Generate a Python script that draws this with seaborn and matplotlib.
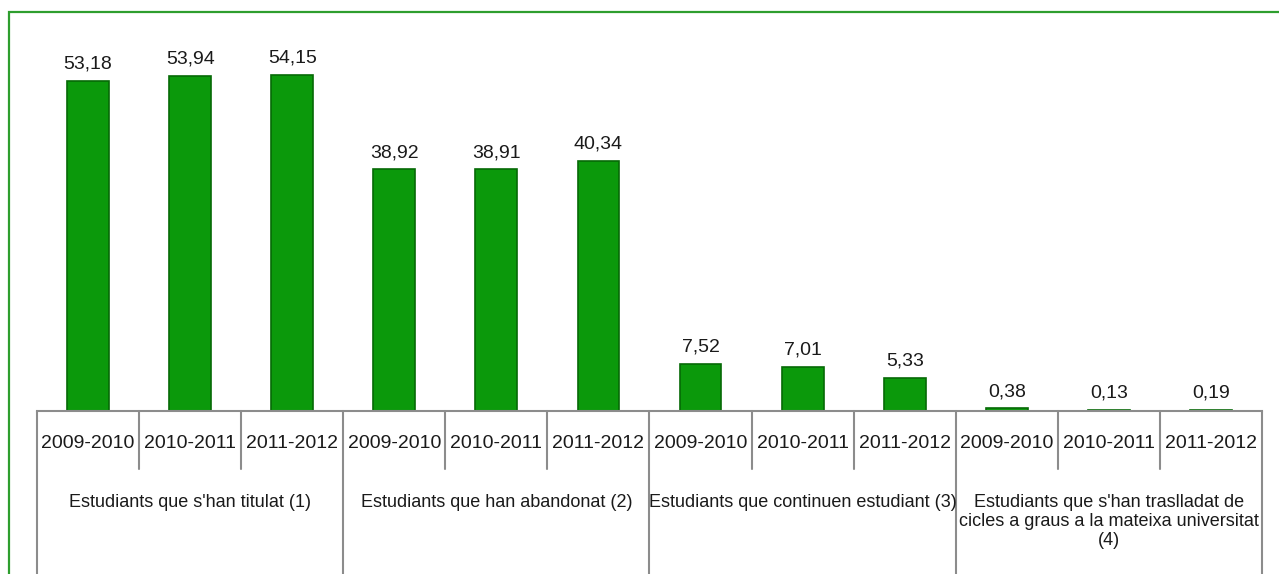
"""Percentatge d'estudiants per situació i curs"""

import pandas as pd
import matplotlib
matplotlib.use('Agg')
import matplotlib.pyplot as plt
import matplotlib.transforms as mtransforms
from matplotlib.patches import Rectangle
import seaborn as sns

# Data ################################################
GROUPS = ["Estudiants que s'han titulat (1)",
          "Estudiants que han abandonat (2)",
          "Estudiants que continuen estudiant (3)",
          "Estudiants que s'han traslladat de\ncicles a graus a la mateixa universitat\n(4)"]
YEARS = ['2009-2010', '2010-2011', '2011-2012']
VALUES = [53.18, 53.94, 54.15,
          38.92, 38.91, 40.34,
          7.52, 7.01, 5.33,
          0.38, 0.13, 0.19]

W, H = 1279, 574
FONT = 14
GROUP_FONT = 13
GRID_COLOR = '#8c8c8c'
BAR_COLOR = '#0b990b'
EDGE_COLOR = '#066a06'

sns.set_style('white')
plt.rcParams['font.family'] = ['Liberation Sans', 'DejaVu Sans']

df = pd.DataFrame({
    'slot': [f'{g}|{y}' for g in range(len(GROUPS)) for y in YEARS],
    'year': YEARS * len(GROUPS),
    'value': VALUES,
})

fig = plt.figure(figsize=(W / 100, H / 100), dpi=100)
ax_left, ax_right, ax_base, ax_top = 37, 1262, 410.7, 38.7
ax = fig.add_axes([ax_left / W, (H - ax_base) / H,
                   (ax_right - ax_left) / W, (ax_base - ax_top) / H])
ax_h = ax_base - ax_top

# Bars ################################################
sns.barplot(data=df, x='slot', y='value', order=df['slot'], color=BAR_COLOR,
            width=0.41, ax=ax, saturation=1, edgecolor=EDGE_COLOR,
            linewidth=1.2)
labels = [f'{v:.2f}'.replace('.', ',') for v in VALUES]
ax.bar_label(ax.containers[0], labels=labels, padding=6, fontsize=FONT,
             color='#1a1a1a')

ax.set_ylim(0, 60)
ax.set_xlim(-0.5, len(VALUES) - 0.5)
ax.set_xticks([])
ax.set_yticks([])
ax.set_xlabel('')
ax.set_ylabel('')
for side in ['left', 'right', 'top']:
    ax.spines[side].set_visible(False)
ax.spines['bottom'].set_color(GRID_COLOR)
ax.spines['bottom'].set_linewidth(1.5)

# Category table below the axis ################################################
trans = mtransforms.blended_transform_factory(ax.transData, ax.transAxes)


def px(dy):
    """pixels below baseline -> axes fraction"""
    return -dy / ax_h


n_years = len(YEARS)
for i in range(len(VALUES) + 1):
    x = i - 0.5
    bottom = px(170) if i % n_years == 0 else px(58)
    ax.plot([x, x], [0, bottom], transform=trans, color=GRID_COLOR,
            lw=1.5, clip_on=False)

for i, yr in enumerate(df['year']):
    ax.text(i, px(33), yr, transform=trans, ha='center', va='center',
            fontsize=FONT, color='#1a1a1a')

for g, name in enumerate(GROUPS):
    xc = g * n_years + (n_years - 1) / 2
    ax.text(xc, px(83), name, transform=trans, ha='center', va='top',
            fontsize=GROUP_FONT, color='#1a1a1a', linespacing=1.15)

# Chart border ################################################
fig.patches.append(Rectangle((9 / W, -0.1), 1.2, (H - 12) / H + 0.1,
                             transform=fig.transFigure, fill=False,
                             edgecolor='#2e9e2e', linewidth=1.6))

fig.savefig('out.png', dpi=100)
plt.close()
